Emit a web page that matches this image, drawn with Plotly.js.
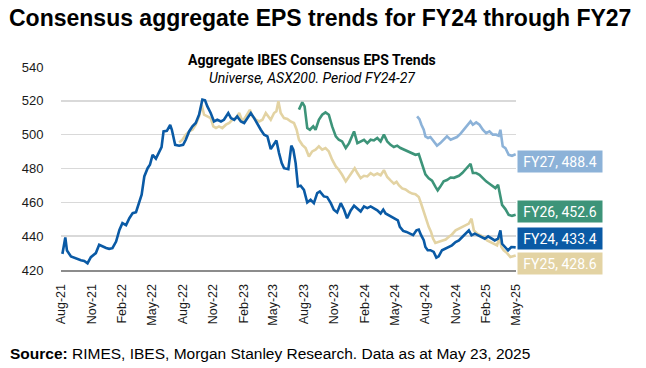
<!DOCTYPE html>
<html>
<head>
<meta charset="utf-8">
<script src="https://cdn.plot.ly/plotly-3.0.1.min.js"></script>
<style>
html,body{margin:0;padding:0;background:#fff;}
#chart{width:646px;height:368px;}
</style>
</head>
<body>
<div id="chart"></div>
<script>
// ---- Data ----
const tickDates = ["2021-08-23","2021-11-23","2022-02-23","2022-05-23","2022-08-23","2022-11-23","2023-02-23","2023-05-23","2023-08-23","2023-11-23","2024-02-23","2024-05-23","2024-08-23","2024-11-23","2025-02-23","2025-05-23"];
const tickLabels = ["Aug-21","Nov-21","Feb-22","May-22","Aug-22","Nov-22","Feb-23","May-23","Aug-23","Nov-23","Feb-24","May-24","Aug-24","Nov-24","Feb-25","May-25"];
const yTicks = [420,440,460,480,500,520,540];

const seriesNames = ["FY24","FY25","FY26","FY27"];

const fy24Dates = ["2021-08-23","2021-08-27","2021-09-04","2021-09-09","2021-09-21","2021-10-06","2021-10-21","2021-10-31","2021-11-10","2021-11-20","2021-12-05","2021-12-15","2021-12-25","2022-01-05","2022-01-14","2022-01-24","2022-02-04","2022-02-14","2022-02-23","2022-03-06","2022-03-16","2022-03-26","2022-04-05","2022-04-15","2022-04-22","2022-04-30","2022-05-10","2022-05-17","2022-05-25","2022-06-04","2022-06-14","2022-06-21","2022-06-27","2022-07-07","2022-07-17","2022-07-22","2022-08-01","2022-08-13","2022-08-25","2022-09-02","2022-09-12","2022-09-22","2022-10-02","2022-10-12","2022-10-22","2022-10-30","2022-11-06","2022-11-16","2022-11-26","2022-12-06","2022-12-17","2022-12-26","2023-01-08","2023-01-16","2023-01-26","2023-02-04","2023-02-15","2023-02-25","2023-03-07","2023-03-17","2023-03-27","2023-04-06","2023-04-16","2023-04-26","2023-05-06","2023-05-16","2023-05-26","2023-06-02","2023-06-10","2023-06-18","2023-06-25","2023-07-08","2023-07-17","2023-07-23","2023-07-30","2023-08-06","2023-08-14","2023-08-24","2023-09-03","2023-09-13","2023-09-23","2023-10-03","2023-10-11","2023-10-23","2023-11-02","2023-11-13","2023-11-22","2023-12-02","2023-12-13","2023-12-23","2024-01-01","2024-01-12","2024-01-22","2024-02-01","2024-02-11","2024-02-21","2024-03-02","2024-03-12","2024-03-22","2024-04-01","2024-04-11","2024-04-19","2024-04-26","2024-05-06","2024-05-16","2024-05-26","2024-06-02","2024-06-08","2024-06-18","2024-06-28","2024-07-08","2024-07-18","2024-07-28","2024-08-04","2024-08-11","2024-08-19","2024-08-24","2024-08-31","2024-09-08","2024-09-18","2024-09-26","2024-10-03","2024-10-13","2024-10-24","2024-11-02","2024-11-12","2024-11-23","2024-12-03","2024-12-13","2024-12-23","2025-01-02","2025-01-10","2025-01-20","2025-01-30","2025-02-09","2025-02-19","2025-03-01","2025-03-11","2025-03-21","2025-03-31","2025-04-07","2025-04-12","2025-04-20","2025-04-30","2025-05-10","2025-05-23"];
const fy24Values = [430.5,430.3,439.2,431.5,428.0,426.8,425.8,425.4,424.0,427.6,430.0,434.9,433.9,433.0,432.5,432.9,436.8,443.7,447.7,446.5,450.6,453.6,454.2,460.5,464.5,475.3,480.2,482.2,488.1,485.8,490.1,492.7,501.9,502.3,505.7,502.9,494.0,493.5,494.0,497.0,501.9,504.9,506.9,511.8,520.7,520.3,516.7,512.8,507.8,508.8,507.8,508.8,512.8,509.8,508.8,510.8,507.8,506.9,509.8,512.8,509.8,505.9,502.9,500.0,499.0,491.5,495.0,496.6,489.1,483.2,480.2,479.6,493.5,491.1,483.2,469.4,469.8,467.4,459.9,461.5,459.5,465.4,466.4,463.5,463.1,459.5,455.6,454.0,459.5,455.6,450.6,455.2,458.0,456.0,454.6,457.6,456.6,457.6,456.3,455.3,453.4,455.7,453.4,452.4,451.4,450.4,449.4,445.5,443.1,442.5,441.5,440.6,443.5,443.9,440.6,437.6,433.6,431.7,431.7,430.7,427.3,428.1,431.7,432.7,433.6,434.6,436.5,437.5,439.5,441.5,443.4,440.5,441.5,440.5,439.5,438.5,439.9,438.5,437.5,438.5,443.4,435.5,433.6,431.6,433.6,433.4];

const fy25Dates = ["2022-08-13","2022-08-23","2022-09-02","2022-09-12","2022-09-22","2022-10-02","2022-10-12","2022-10-20","2022-10-27","2022-11-06","2022-11-16","2022-11-24","2022-12-02","2022-12-11","2022-12-21","2023-01-01","2023-01-11","2023-01-20","2023-01-31","2023-02-10","2023-02-20","2023-03-02","2023-03-14","2023-03-22","2023-04-01","2023-04-11","2023-04-21","2023-05-01","2023-05-09","2023-05-16","2023-05-26","2023-06-02","2023-06-08","2023-06-15","2023-06-25","2023-07-05","2023-07-15","2023-07-25","2023-08-02","2023-08-09","2023-08-19","2023-08-29","2023-09-08","2023-09-18","2023-09-28","2023-10-08","2023-10-18","2023-10-28","2023-11-07","2023-11-17","2023-11-28","2023-12-07","2023-12-17","2023-12-28","2024-01-07","2024-01-17","2024-01-24","2024-02-01","2024-02-11","2024-02-21","2024-03-02","2024-03-12","2024-03-22","2024-04-01","2024-04-11","2024-04-21","2024-05-01","2024-05-11","2024-05-21","2024-05-29","2024-06-05","2024-06-15","2024-06-25","2024-07-05","2024-07-15","2024-07-25","2024-08-04","2024-08-11","2024-08-19","2024-08-27","2024-09-03","2024-09-10","2024-09-16","2024-09-23","2024-10-03","2024-10-13","2024-10-24","2024-11-02","2024-11-12","2024-11-23","2024-12-03","2024-12-13","2024-12-23","2025-01-02","2025-01-10","2025-01-17","2025-01-27","2025-02-06","2025-02-16","2025-02-26","2025-03-08","2025-03-18","2025-03-28","2025-04-04","2025-04-10","2025-04-17","2025-04-27","2025-05-07","2025-05-23"];
const fy25Values = [495.4,497.0,500.0,501.9,502.9,505.9,510.8,517.7,511.8,510.8,509.8,504.9,503.9,504.9,503.9,505.9,506.9,508.8,509.8,512.8,507.8,510.8,514.7,510.8,508.8,507.8,508.8,512.8,510.8,508.8,512.8,513.8,519.7,512.8,509.8,509.3,507.8,506.9,502.9,497.0,494.0,492.1,487.1,490.1,491.1,493.1,491.1,492.1,490.1,485.2,481.2,479.3,476.3,472.4,475.3,478.3,480.2,477.3,474.3,475.7,475.3,477.3,476.0,477.0,476.0,479.0,475.0,473.0,471.1,472.1,470.1,468.2,467.6,466.2,465.2,464.8,463.2,459.3,454.4,449.4,445.5,442.5,438.6,436.0,436.6,437.6,438.0,439.5,441.0,443.4,444.4,445.4,446.4,447.4,450.3,443.4,441.5,440.5,439.5,437.5,436.5,435.5,434.6,439.5,433.6,431.6,430.0,427.7,428.6];

const fy26Dates = ["2023-08-09","2023-08-19","2023-08-26","2023-09-03","2023-09-11","2023-09-21","2023-09-28","2023-10-08","2023-10-18","2023-10-28","2023-11-07","2023-11-17","2023-11-28","2023-12-07","2023-12-17","2023-12-28","2024-01-07","2024-01-22","2024-02-01","2024-02-11","2024-02-21","2024-03-02","2024-03-12","2024-03-22","2024-04-01","2024-04-11","2024-04-21","2024-05-01","2024-05-11","2024-05-21","2024-05-31","2024-06-10","2024-06-17","2024-06-25","2024-07-05","2024-07-15","2024-07-25","2024-08-04","2024-08-14","2024-08-24","2024-09-03","2024-09-13","2024-09-23","2024-09-30","2024-10-08","2024-10-18","2024-10-28","2024-11-08","2024-11-18","2024-12-03","2024-12-13","2024-12-23","2025-01-02","2025-01-07","2025-01-14","2025-01-24","2025-02-03","2025-02-13","2025-02-23","2025-03-05","2025-03-15","2025-03-23","2025-03-31","2025-04-05","2025-04-12","2025-04-22","2025-05-02","2025-05-12","2025-05-23"];
const fy26Values = [514.8,519.1,516.7,503.9,502.9,504.9,502.9,508.8,511.8,513.2,511.8,504.9,499.0,497.0,496.0,492.1,495.0,501.9,495.0,496.0,497.0,495.0,497.0,496.6,498.0,496.0,500.0,496.0,494.0,492.7,493.5,492.1,491.5,491.1,490.1,489.1,488.1,488.5,483.0,476.5,474.2,472.8,469.3,467.1,469.3,472.4,473.2,474.7,474.5,475.7,477.3,479.3,481.6,482.8,477.3,477.3,476.3,474.3,472.4,471.0,469.8,468.4,470.4,465.4,458.5,456.0,452.6,452.0,452.6];

const fy27Dates = ["2024-07-30","2024-08-06","2024-08-12","2024-08-19","2024-08-24","2024-09-01","2024-09-08","2024-09-18","2024-09-28","2024-10-08","2024-10-18","2024-10-28","2024-11-08","2024-11-18","2024-11-27","2024-12-08","2024-12-18","2024-12-28","2025-01-07","2025-01-14","2025-01-24","2025-02-03","2025-02-13","2025-02-23","2025-03-05","2025-03-15","2025-03-25","2025-04-02","2025-04-07","2025-04-14","2025-04-22","2025-05-02","2025-05-12","2025-05-23"];
const fy27Values = [510.8,509.2,505.9,502.9,499.0,498.0,498.6,496.0,493.5,495.0,497.0,499.0,497.0,498.0,498.6,500.6,502.9,504.9,507.8,505.9,507.3,505.9,502.9,500.9,502.0,500.0,500.0,499.4,502.9,493.1,492.1,488.1,487.5,488.4];

// ---- Styles ----
const colors = {FY24:"#0a5aa5", FY25:"#e3d3a3", FY26:"#3d9479", FY27:"#8cb2d8"};
// vertical placement of the end labels (value-axis position of each box)
const labelY = {FY27:483.9, FY26:454.8, FY24:438.8, FY25:424.0};

const series = {
  FY24:{x:fy24Dates,y:fy24Values},
  FY25:{x:fy25Dates,y:fy25Values},
  FY26:{x:fy26Dates,y:fy26Values},
  FY27:{x:fy27Dates,y:fy27Values}
};

// draw order: FY27, FY26, FY25, FY24 on top
const drawOrder = ["FY27","FY26","FY25","FY24"];
const traces = drawOrder.map(n => ({
  type:"scatter", mode:"lines", name:n,
  x:series[n].x, y:series[n].y,
  line:{color:colors[n], width:2.6, shape:"linear"},
  hoverinfo:"skip", showlegend:false
}));

const endAnnotations = seriesNames.map(n => {
  const v = series[n].y[series[n].y.length-1];
  return {
    xref:"paper", yref:"y", x:1, y:labelY[n], xanchor:"left", yanchor:"middle",
    xshift:1, text:n + ", " + v.toFixed(1), showarrow:false,
    font:{family:"Roboto, 'Noto Sans', sans-serif", size:14, color:"#ffffff"},
    bgcolor:colors[n], borderpad:2, width:80, height:17, align:"center"
  };
});

// plot box in pixels: left 61, right 516, top 67, bottom 270
const PL = 61, PW = 455, PB = 270, PH = 203;
const px = v => (v - PL) / PW;
const py = v => (PB - v) / PH;

const layout = {
  width:646, height:368,
  margin:{l:61, r:130, t:67, b:98},
  paper_bgcolor:"#ffffff", plot_bgcolor:"#ffffff",
  title:{
    text:"Consensus aggregate EPS trends for FY24 through FY27",
    font:{family:"'Liberation Sans', Arial, sans-serif", size:23, color:"#000000", weight:700},
    xref:"container", yref:"container", x:9/646, xanchor:"left", y:1-18/368, yanchor:"middle"
  },
  xaxis:{
    type:"date", range:["2021-08-22","2025-05-24"],
    tickvals:tickDates, ticktext:tickLabels, tickangle:-90,
    ticks:"outside", ticklen:7, tickcolor:"rgba(0,0,0,0)",
    tickfont:{family:"'Liberation Sans', Arial, sans-serif", size:12.5, color:"#1a1a1a"},
    showgrid:false, zeroline:false,
    showline:true, linecolor:"#8c8c8c", linewidth:2
  },
  yaxis:{
    range:[420,540], tickvals:yTicks,
    ticks:"outside", ticklen:14, tickcolor:"rgba(0,0,0,0)",
    tickfont:{family:"'Liberation Sans', Arial, sans-serif", size:13, color:"#1a1a1a"},
    showgrid:true, gridcolor:"#d9d9d9", gridwidth:1.5, zeroline:false, showline:false
  },
  annotations:[
    {xref:"paper", yref:"paper", x:px(312), y:py(60), xanchor:"center", yanchor:"middle",
     text:"<b>Aggregate IBES Consensus EPS Trends</b>", showarrow:false,
     font:{family:"Roboto, sans-serif", size:14, color:"#000000"}},
    {xref:"paper", yref:"paper", x:px(312), y:py(78), xanchor:"center", yanchor:"middle",
     text:"<i>Universe, ASX200. Period FY24-27</i>", showarrow:false,
     font:{family:"Roboto, sans-serif", size:14, color:"#000000"}},
    {xref:"paper", yref:"paper", x:px(8), y:py(353), xanchor:"left", yanchor:"middle",
     text:"<b>Source:</b> RIMES, IBES, Morgan Stanley Research. Data as at May 23, 2025", showarrow:false,
     font:{family:"'Liberation Sans', Arial, sans-serif", size:15.5, color:"#000000"}}
  ].concat(endAnnotations)
};

Plotly.newPlot("chart", traces, layout, {staticPlot:true, displayModeBar:false});
</script>
</body>
</html>
